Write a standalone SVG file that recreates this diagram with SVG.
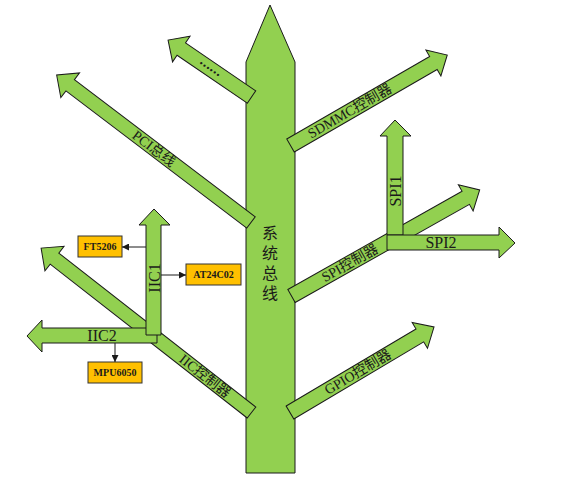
<svg xmlns="http://www.w3.org/2000/svg" width="566" height="486" viewBox="0 0 566 486">
<style>
.br{fill:#92D050;stroke:#1a1a1a;stroke-width:1;stroke-linejoin:miter}
.t{font-family:"Liberation Serif","Noto Sans CJK SC",serif;font-size:14px;fill:#1a1a1a;text-anchor:middle;dominant-baseline:central}
.t16{font-size:16px}
.box{fill:#FFC000;stroke:#333;stroke-width:1}
.bt{font-family:"Liberation Serif",serif;font-weight:bold;font-size:10px;fill:#1a1a1a;text-anchor:middle;dominant-baseline:central}
.ln{stroke:#1a1a1a;stroke-width:1;fill:none;marker-end:url(#ah)}
</style>
<defs>
<marker id="ah" viewBox="0 0 10 10" refX="10" refY="5" markerWidth="7" markerHeight="7" markerUnits="userSpaceOnUse" orient="auto">
<path d="M0,0 L10,5 L0,10 z" fill="#1a1a1a"/>
</marker>
</defs>
<g id="trunk">
<polygon class="br" points="246,473 246,62 270,5 295,62 295,473"/>
<text class="t t16" x="270" y="233">系</text>
<text class="t t16" x="270" y="253">统</text>
<text class="t t16" x="270" y="273">总</text>
<text class="t t16" x="270" y="293">线</text>
</g>
<g id="branch-dots" transform="translate(251.5,97) rotate(214.3)">
<polygon class="br" points="0,-7.5 85,-7.5 85,-15.5 101,0 85,15.5 85,7.5 0,7.5"/>
<text class="t" style="font-weight:bold;letter-spacing:0.6px" x="50" y="-3" transform="rotate(180 50 0)">......</text>
</g>
<g id="branch-pci" transform="translate(251,222.5) rotate(217.2)">
<polygon class="br" points="0,-7 227,-7 227,-15.5 244,0 227,15.5 227,7 0,7"/>
<text class="t" x="122" y="0" transform="rotate(180 122 0)">PCI总线</text>
</g>
<g id="branch-sdmmc" transform="translate(290.5,145.5) rotate(-30)">
<polygon class="br" points="0,-7.5 165,-7.5 165,-15 181,0 165,15 165,7.5 0,7.5"/>
<text class="t" x="68.5" y="0">SDMMC控制器</text>
</g>
<g id="branch-spi" transform="translate(291.5,296) rotate(-29.4)">
<polygon class="br" points="0,-7.5 200,-7.5 200,-15 216,0 200,15 200,7.5 0,7.5"/>
<text class="t" x="67" y="0">SPI控制器</text>
</g>
<g id="spi1">
<polygon class="br" points="387,235 387,136 380,136 395,120 411,136 403,136 403,235"/>
<text class="t t16" x="0" y="0" transform="translate(395,191) rotate(-90)">SPI1</text>
</g>
<g id="spi2">
<polygon class="br" points="387,235 499,235 499,227 515,243 499,258 499,250 387,250"/>
<text class="t t16" x="441" y="242.5">SPI2</text>
</g>
<g id="branch-gpio" transform="translate(290,412.5) rotate(-30.7)">
<polygon class="br" points="0,-7.5 151,-7.5 151,-15 167.5,0 151,15 151,7.5 0,7.5"/>
<text class="t" x="79" y="0">GPIO控制器</text>
</g>
<g id="branch-iic" transform="translate(251.5,412.5) rotate(218)">
<polygon class="br" points="0,-7 250,-7 250,-15.5 267,0 250,15.5 250,7 0,7"/>
<text class="t" x="59" y="0" transform="rotate(180 59 0)">IIC控制器</text>
</g>
<g id="iic2">
<polygon class="br" points="157,328 42,328 42,320 27,336 42,352 42,343 157,343"/>
<text class="t t16" x="102" y="335.5">IIC2</text>
</g>
<g id="iic1">
<polygon class="br" points="146,335 146,225 139,225 154,209 170,225 161,225 161,335"/>
<text class="t t16" x="0" y="0" transform="translate(154,278) rotate(-90)">IIC1</text>
</g>
<g id="ft5206">
<rect class="box" x="78" y="236" width="44" height="21"/>
<text class="bt" x="100" y="246.5">FT5206</text>
</g>
<g id="at24c02">
<rect class="box" x="186" y="264" width="55" height="21"/>
<text class="bt" x="213.5" y="274.5">AT24C02</text>
</g>
<g id="mpu6050">
<rect class="box" x="88" y="362" width="54" height="21"/>
<text class="bt" x="115" y="372.5">MPU6050</text>
</g>
<g id="connectors">
<line class="ln" x1="146" y1="247" x2="122" y2="247"/>
<line class="ln" x1="161" y1="275" x2="186" y2="275"/>
<line class="ln" x1="115" y1="343" x2="115" y2="362"/>
</g>
</svg>
